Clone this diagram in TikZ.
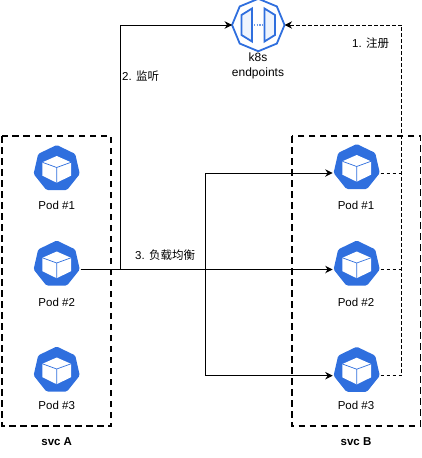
\documentclass[tikz,border=0pt]{standalone}
\usepackage{fontspec}
\setmainfont{Liberation Sans}
\newfontfamily\cjk{Noto Sans CJK SC}
\usetikzlibrary{arrows.meta,shapes.geometric}
\definecolor{k8sblue}{HTML}{2F6FDE}
\definecolor{eplight}{HTML}{EEF4FD}
\tikzset{
    podnode/.style={minimum width=48pt,minimum height=58pt,inner sep=0pt,outer sep=0pt},
    podicon/.pic={
        \node[regular polygon,regular polygon sides=7,minimum size=47.4pt,inner sep=0pt,outer sep=0pt,
            fill=k8sblue,rounded corners=1.5pt] at (0,-5.3) {};
        \fill[white] (0,-18) -- (14.3,-11.7) -- (14.3,1.7) -- (0,8.7) -- (-14.3,1.7) -- (-14.3,-11.7) -- cycle;
        \draw[k8sblue,line width=0.7pt] (-14.3,-11.7) -- (0,-6.5) -- (14.3,-11.7) (0,-6.5) -- (0,8.7);
    },
    svcbox/.style={draw,line width=1.6pt,dash pattern=on 6.5pt off 4.5pt},
    label/.style={font=\fontsize{11.5}{14}\selectfont,inner sep=0pt},
    watchline/.style={line width=0.9pt,-{Stealth[length=7.5pt,width=7.5pt]}},
    regline/.style={line width=0.9pt,dash pattern=on 3.5pt off 2.5pt},
}

\begin{document}
\begin{tikzpicture}[x=1pt,y=-1pt]
    \useasboundingbox (0,0) rectangle (422,458);

    % service boxes
    \draw[svcbox] (2,136) rectangle (111,426);
    \draw[svcbox] (291.7,136) rectangle (420.5,426);
    \node[label,font=\fontsize{11.5}{14}\selectfont\bfseries] (svca) at (56.7,442) {svc A};
    \node[label,font=\fontsize{11.5}{14}\selectfont\bfseries] (svcb) at (356,442) {svc B};

    % pods
    \node[podnode] (a1) at (56.7,174) {};
    \node[podnode] (a2) at (56.7,269.5) {};
    \node[podnode] (a3) at (56.7,375.5) {};
    \node[podnode] (b1) at (356.7,173) {};
    \node[podnode] (b2) at (356.7,269.5) {};
    \node[podnode] (b3) at (356.7,375.7) {};
    \pic at (a1) {podicon};
    \pic at (a2) {podicon};
    \pic at (a3) {podicon};
    \pic at (b1) {podicon};
    \pic at (b2) {podicon};
    \pic at (b3) {podicon};
    \node[label] (a1text) at (56.7,205.5) {Pod \#1};
    \node[label] (a2text) at (56.7,302.5) {Pod \#2};
    \node[label] (a3text) at (56.7,405.5) {Pod \#3};
    \node[label] (b1text) at (356,205.5) {Pod \#1};
    \node[label] (b2text) at (356,302.5) {Pod \#2};
    \node[label] (b3text) at (356,405.5) {Pod \#3};

    % endpoints icon
    \node[regular polygon,regular polygon sides=8,shape border rotate=22.5,minimum size=52.5pt,
        inner sep=0pt,outer sep=0pt,draw=k8sblue,line width=1.8pt,fill=white] (ep) at (258.3,25) {};
    \draw[k8sblue,line width=1.8pt,fill=eplight] (241.5,15) -- (252,8.5) -- (252,41.5) -- (241.5,35) -- cycle;
    \draw[k8sblue,line width=1.8pt,fill=eplight] (275,15) -- (264.5,8.5) -- (264.5,41.5) -- (275,35) -- cycle;
    \draw[k8sblue!70,line width=1.2pt,dash pattern=on 1.3pt off 1.3pt] (254,25) -- (263,25);
    \node[label,font=\fontsize{12}{15}\selectfont,align=center] (eptext) at (258,66) {k8s\\endpoints};

    % connectors
    \coordinate (watchturn) at (120,269.5);
    \coordinate (split) at (205,269.5);
    \coordinate (bus) at (401.7,25);
    \draw[watchline] (a2.east) -- (watchturn) |- (ep.west);
    \draw[watchline] (a2.east) -- (split) |- (b1.west);
    \draw[watchline] (split) -- (b2.west);
    \draw[watchline] (split) |- (b3.west);
    \draw[regline] (b1.east) -- (b1.east -| bus);
    \draw[regline] (b2.east) -- (b2.east -| bus);
    \draw[regline] (b3.east) -| (bus);
    \draw[regline,-{Stealth[length=7.5pt,width=7.5pt]}] (bus) -- (ep.east);

    % texts
    \node[label,anchor=west] (regtext) at (352,43.5) {1. {\cjk 注册}};
    \node[label,anchor=west] (watchtext) at (122,76) {2. {\cjk 监听}};
    \node[label,anchor=west] (lbtext) at (135,255) {3. {\cjk 负载均衡}};
\end{tikzpicture}
\end{document}
